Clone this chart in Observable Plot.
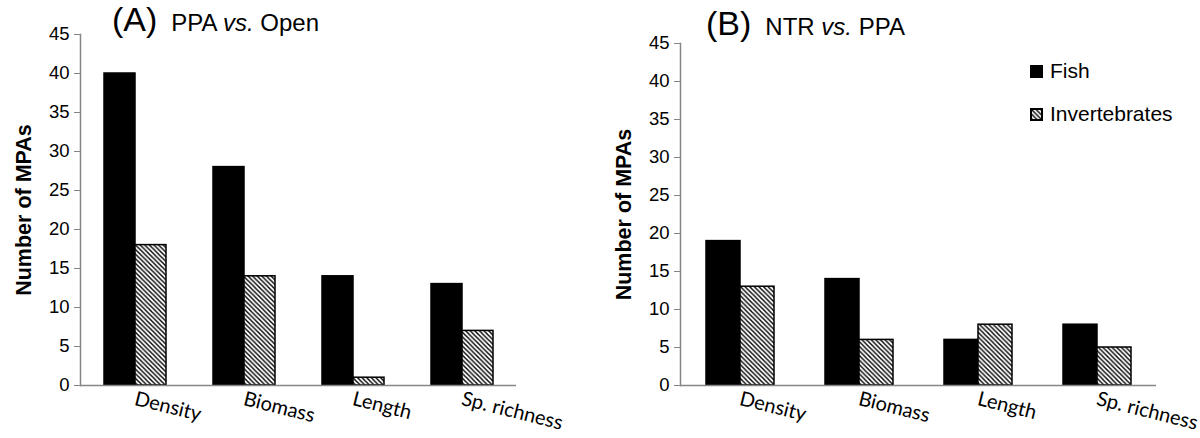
<!DOCTYPE html>
<html>
<head>
<meta charset="utf-8">
<script src="https://cdn.jsdelivr.net/npm/d3@7"></script>
<script src="https://cdn.jsdelivr.net/npm/@observablehq/plot@0.6"></script>
<style>
  body { margin: 0; background: #fff; }
  #wrap { position: relative; width: 1200px; height: 438px; overflow: hidden; font-family: "Liberation Sans", Arial, sans-serif; background: #fff; }
  .panel { position: absolute; top: 0; }
  .title { position: absolute; top: 1px; white-space: nowrap; color: #000; line-height: 36px; }
  .title .big { font-size: 34px; }
  .title .small { font-size: 24px; margin-left: 14px; }
  g[aria-label="y-axis label"] text { font-weight: bold; font-size: 21.5px; }
  #legend { position: absolute; left: 1031px; top: 59px; color: #000; }
  #legend * { font-size: 21px !important; font-family: "Liberation Sans", Arial, sans-serif !important; }
  #legend [class$="-swatch"] { padding-bottom: 19px !important; }
  #legend svg { margin-right: 8px !important; }
  #legend svg rect { stroke: #000; stroke-width: 2px; }
</style>
</head>
<body>
<svg width="0" height="0" style="position:absolute">
  <defs>
    <pattern id="hatch" patternUnits="userSpaceOnUse" width="4.6" height="4.6">
      <rect width="4.6" height="4.6" fill="#fff"></rect>
      <path d="M0,0L4.6,4.6M-1,3.6L1,5.6M3.6,-1L5.6,1" stroke="#000" stroke-width="1.4"></path>
    </pattern>
  </defs>
</svg>
<div id="wrap">
  <div class="panel" id="pA" style="left:0px"></div>
  <div class="panel" id="pB" style="left:600px"></div>
  <div class="title" style="left:112px"><span class="big">(A)</span><span class="small">PPA <i>vs.</i> Open</span></div>
  <div class="title" style="left:706px; top:5px"><span class="big">(B)</span><span class="small">NTR <i>vs.</i> PPA</span></div>
  <div id="legend"></div>
</div>
<script>
const categories = ["Density", "Biomass", "Length", "Sp. richness"];
const groups = ["Fish", "Invertebrates"];
const fishA = [40, 28, 14, 13];
const invA  = [18, 14, 1, 7];
const fishB = [19, 14, 6, 8];
const invB  = [13, 6, 8, 5];
const yTicks = [0, 5, 10, 15, 20, 25, 30, 35, 40, 45];
const yLabel = "Number of MPAs";

function panel(fish, inv, mt, mr) {
  const data = categories.flatMap((c, i) => [
    {cat: c, group: groups[0], value: fish[i]},
    {cat: c, group: groups[1], value: inv[i]}
  ]);
  return Plot.plot({
    width: 600, height: 438,
    marginLeft: 79, marginRight: mr, marginTop: mt, marginBottom: 53,
    style: {fontFamily: "'Liberation Sans', Arial, sans-serif", fontSize: "18px", color: "#000", background: "transparent", overflow: "visible"},
    fx: {domain: categories, padding: 0, label: null},
    x: {domain: groups, axis: null, paddingInner: 0, paddingOuter: 0.73},
    y: {domain: [0, 45], ticks: yTicks, label: yLabel},
    color: {domain: groups, range: ["#000", "url(#hatch)"]},
    marks: [
      Plot.barY(data, {fx: "cat", x: "group", y: "value", fill: "group", stroke: "#000", strokeWidth: 1.5}),
      Plot.ruleY([0], {stroke: "#868686", strokeWidth: 1.5}),
      Plot.frame({anchor: "left", facetAnchor: "left", stroke: "#868686", strokeWidth: 1.5}),
      Plot.axisY({ticks: yTicks, tickSize: 6, tickPadding: 5, stroke: "#868686", fontSize: 18.5,
                  label: yLabel, labelAnchor: "center", labelArrow: false, labelOffset: 65}),
      Plot.axisFx({anchor: "bottom", tickRotate: 14, tickSize: 0, tickPadding: 13, fontSize: 20, fontFamily: "Lato", label: null})
    ]
  });
}

document.getElementById("pA").appendChild(panel(fishA, invA, 34, 83));
document.getElementById("pB").appendChild(panel(fishB, invB, 43, 43));

const leg = Plot.legend({
  color: {domain: groups, range: ["#000", "url(#hatch)"]},
  legend: "swatches", columns: 1, swatchSize: 11,
  style: {fontSize: "21px", fontFamily: "'Liberation Sans', Arial, sans-serif", color: "#000"}
});
document.getElementById("legend").appendChild(leg);
</script>
</body>
</html>
